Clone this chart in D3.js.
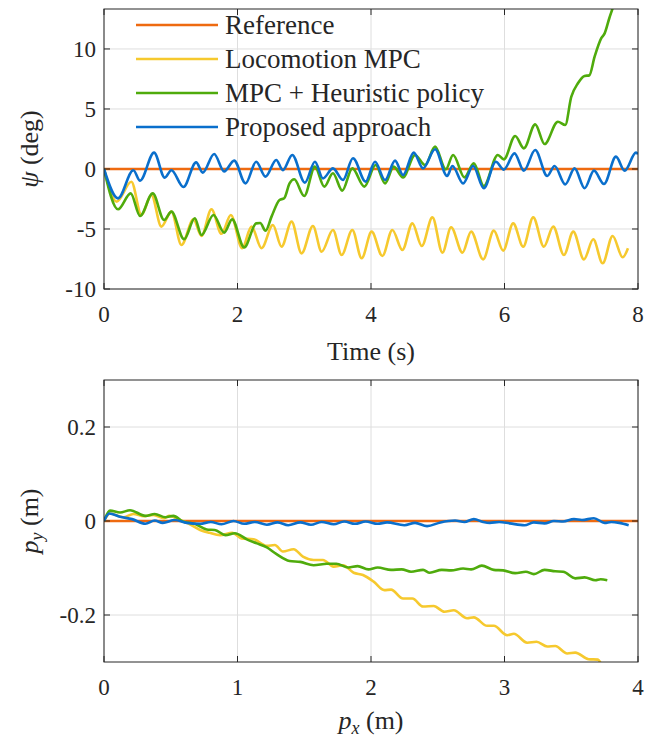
<!DOCTYPE html>
<html>
<head>
<meta charset="utf-8">
<script src="https://cdn.jsdelivr.net/npm/d3@7"></script>
<style>
  body { margin: 0; background: #fff; }
</style>
</head>
<body>
<div id="chart"></div>
<script>
// ---- data ----
const seriesNames = ["Reference", "Locomotion MPC", "MPC + Heuristic policy", "Proposed approach"];
const seriesColors = ["#EE6A10", "#F6C92E", "#4FAB0C", "#0A6FCC"];

// top: heading psi (deg) vs time (s)
const psiReference = [[0, 0], [8, 0]];
const psiLocomotion = [[0,0],[0.19,-2.72],[0.41,-1.06],[0.56,-3.83],[0.71,-2.17],[0.86,-4.8],[1.01,-3.55],
  [1.16,-6.33],[1.34,-4.2],[1.46,-5.58],[1.61,-3.36],[1.76,-5.4],[1.90,-3.83],[2.07,-6.6],[2.21,-4.8],
  [2.36,-6.6],[2.53,-4.67],[2.66,-6.47],[2.81,-4.39],[2.96,-7.03],[3.13,-4.75],[3.26,-6.89],[3.43,-5.08],
  [3.56,-7.17],[3.72,-5.08],[3.86,-7.44],[4.01,-5.22],[4.17,-7.25],[4.32,-5.08],[4.47,-6.75],[4.62,-4.53],
  [4.76,-6.42],[4.92,-4.03],[5.07,-6.97],[5.20,-4.86],[5.37,-6.97],[5.50,-5.22],[5.68,-7.53],[5.84,-5.14],
  [5.98,-6.8],[6.13,-4.53],[6.28,-6.47],[6.43,-4.03],[6.59,-6.47],[6.73,-4.8],[6.89,-7.17],[7.03,-5.22],
  [7.19,-7.53],[7.33,-5.86],[7.47,-7.86],[7.62,-5.58],[7.77,-7.36],[7.85,-6.6]];
const psiHeuristic = [[0,0],[0.21,-3.36],[0.40,-2.03],[0.54,-3.92],[0.73,-2.03],[0.90,-4.25],[1.01,-3.55],
  [1.20,-5.86],[1.36,-4.1],[1.46,-5.5],[1.64,-3.83],[1.80,-5.3],[1.92,-4.2],[2.10,-6.53],[2.28,-4.53],
  [2.34,-4.5],[2.42,-5.14],[2.51,-3.97],[2.63,-2.58],[2.70,-2.44],[2.78,-1.2],[2.85,-0.86],[3.00,-2.25],
  [3.16,0.2],[3.30,-1.47],[3.43,-0.36],[3.57,-1.8],[3.72,0.05],[3.90,-1.47],[4.07,0.33],[4.21,-1.2],
  [4.34,0.2],[4.48,-0.7],[4.66,1.17],[4.81,0.33],[4.96,1.86],[5.12,-0.03],[5.23,1.17],[5.40,-0.7],
  [5.54,0.47],[5.69,-1.42],[5.90,1.17],[5.99,0.8],[6.16,2.75],[6.29,1.72],[6.46,3.72],[6.60,2.08],
  [6.80,3.94],[6.91,3.67],[7.00,6.0],[7.10,7.14],[7.20,7.75],[7.27,7.8],[7.35,9.36],[7.45,10.9],
  [7.50,11.3],[7.57,12.56],[7.62,13.4],[7.75,16]];
const psiProposed = [[0,0],[0.21,-2.45],[0.44,-0.1],[0.54,-0.97],[0.75,1.36],[0.91,-0.72],[1.01,-0.1],
  [1.19,-1.5],[1.38,0.55],[1.48,-0.3],[1.65,1.25],[1.80,-0.2],[1.95,0.7],[2.12,-1.2],[2.28,0.6],
  [2.42,-0.64],[2.58,0.75],[2.68,-0.1],[2.82,1.17],[3.01,-1.14],[3.16,0.6],[3.28,-0.78],[3.43,0.05],
  [3.58,-0.92],[3.73,0.89],[3.92,-1.05],[4.06,0.6],[4.21,-0.92],[4.36,0.7],[4.48,-0.5],[4.64,1.36],
  [4.78,0.05],[4.96,1.64],[5.14,-0.58],[5.22,0.25],[5.38,-1.2],[5.53,0.25],[5.69,-1.6],[5.87,0.6],
  [5.99,-0.05],[6.15,1.3],[6.29,-0.14],[6.46,1.58],[6.64,-0.58],[6.75,0.25],[6.91,-1.28],[7.05,0.05],
  [7.20,-1.6],[7.34,-0.14],[7.49,-1.25],[7.67,1.03],[7.80,-0.14],[7.97,1.36],[8.0,1.25]];

// bottom: lateral position p_y (m) vs p_x (m)
const pyReference = [[0, 0], [4, 0]];
const pyLocomotion = [[0,0],[0.045,0.016],[0.145,0.008],[0.22,0.015],[0.30,0.01],[0.37,0.013],[0.45,0.006],
  [0.49,0.011],[0.57,0.002],[0.63,-0.005],[0.72,-0.019],[0.79,-0.025],[0.87,-0.03],[0.96,-0.025],
  [1.03,-0.037],[1.12,-0.039],[1.22,-0.053],[1.28,-0.051],[1.34,-0.065],[1.42,-0.06],[1.49,-0.076],
  [1.57,-0.083],[1.64,-0.083],[1.72,-0.097],[1.79,-0.094],[1.87,-0.11],[1.94,-0.115],[2.02,-0.129],
  [2.10,-0.147],[2.15,-0.146],[2.24,-0.165],[2.31,-0.165],[2.39,-0.182],[2.47,-0.181],[2.55,-0.193],
  [2.62,-0.19],[2.72,-0.207],[2.77,-0.205],[2.87,-0.223],[2.92,-0.223],[3.02,-0.243],[3.07,-0.24],
  [3.17,-0.259],[3.24,-0.257],[3.32,-0.267],[3.38,-0.266],[3.47,-0.282],[3.53,-0.28],[3.63,-0.294],
  [3.70,-0.295],[3.72,-0.302],[3.75,-0.31]];
const pyHeuristic = [[0,0],[0.045,0.022],[0.12,0.018],[0.195,0.023],[0.31,0.011],[0.38,0.015],[0.46,0.008],
  [0.52,0.011],[0.59,-0.001],[0.68,-0.006],[0.77,-0.018],[0.83,-0.019],[0.91,-0.03],[0.98,-0.026],
  [1.07,-0.039],[1.14,-0.047],[1.22,-0.056],[1.29,-0.07],[1.39,-0.085],[1.47,-0.087],[1.57,-0.094],
  [1.67,-0.091],[1.74,-0.091],[1.83,-0.099],[1.90,-0.096],[1.98,-0.103],[2.05,-0.099],[2.15,-0.104],
  [2.23,-0.103],[2.30,-0.108],[2.39,-0.104],[2.44,-0.11],[2.53,-0.104],[2.60,-0.105],[2.69,-0.101],
  [2.75,-0.103],[2.83,-0.095],[2.92,-0.104],[2.99,-0.105],[3.08,-0.111],[3.16,-0.108],[3.22,-0.113],
  [3.30,-0.104],[3.38,-0.107],[3.44,-0.108],[3.53,-0.122],[3.60,-0.12],[3.68,-0.126],[3.72,-0.124],
  [3.77,-0.126]];
const pyProposed = [[0,0],[0.04,0.016],[0.12,0.009],[0.21,0.004],[0.31,-0.006],[0.38,0.001],[0.44,-0.004],
  [0.53,0.002],[0.62,-0.004],[0.72,-0.006],[0.80,-0.002],[0.88,-0.007],[0.97,0.0],[1.05,-0.006],
  [1.13,-0.002],[1.22,-0.008],[1.30,-0.003],[1.38,-0.009],[1.47,-0.003],[1.55,-0.008],[1.63,-0.002],
  [1.72,-0.007],[1.80,-0.001],[1.88,-0.006],[1.96,-0.001],[2.05,-0.006],[2.12,-0.003],[2.25,-0.009],
  [2.33,-0.004],[2.42,-0.011],[2.52,-0.003],[2.63,0.001],[2.70,-0.002],[2.77,0.004],[2.84,-0.002],
  [2.89,-0.004],[2.96,-0.002],[3.04,-0.005],[3.15,-0.009],[3.22,-0.003],[3.30,-0.005],[3.37,0.0],
  [3.44,-0.001],[3.52,0.004],[3.58,0.002],[3.67,0.006],[3.75,-0.004],[3.80,-0.002],[3.86,-0.004],
  [3.93,-0.009]];

const topXTicks = [0, 2, 4, 6, 8];
const topYTicks = [-10, -5, 0, 5, 10];
const botXTicks = [0, 1, 2, 3, 4];
const botYTicks = [-0.2, 0, 0.2];

// ---- layout ----
const W = 648, H = 741;
const serifFont = "'Liberation Serif', 'DejaVu Serif', Tinos, 'Times New Roman', Times, serif";
const svg = d3.select("#chart").append("svg")
    .attr("width", W).attr("height", H)
    .attr("font-family", serifFont);

const left = 104, right = 638;

// helper so every label carries the serif font explicitly
function addText(parent) {
    return parent.append("text")
        .attr("font-family", serifFont)
        .attr("fill", "#262626");
}

// draws one axes box with grid, ticks, lines; returns scales
function drawAxes(cfg) {
    const x = d3.scaleLinear().domain(cfg.xDomain).range([left, right]);
    const y = d3.scaleLinear().domain(cfg.yDomain).range([cfg.bottom, cfg.top]);
    const g = svg.append("g");

    // grid
    g.selectAll(".gx").data(cfg.xTicks).enter().append("line")
        .attr("x1", d => x(d)).attr("x2", d => x(d))
        .attr("y1", cfg.top).attr("y2", cfg.bottom)
        .attr("stroke", "#dedede").attr("stroke-width", 1);
    g.selectAll(".gy").data(cfg.yTicks).enter().append("line")
        .attr("x1", left).attr("x2", right)
        .attr("y1", d => y(d)).attr("y2", d => y(d))
        .attr("stroke", "#dedede").attr("stroke-width", 1);

    // curves, clipped to the box
    const clipId = "clip" + cfg.id;
    svg.append("clipPath").attr("id", clipId).append("rect")
        .attr("x", left).attr("y", cfg.top)
        .attr("width", right - left).attr("height", cfg.bottom - cfg.top);
    const line = d3.line()
        .x(d => x(d[0])).y(d => y(d[1]))
        .curve(d3.curveMonotoneX);
    g.append("g").attr("clip-path", `url(#${clipId})`)
        .selectAll("path").data(cfg.series).enter().append("path")
        .attr("d", d => line(d))
        .attr("fill", "none")
        .attr("stroke", (d, i) => seriesColors[i])
        .attr("stroke-width", 2.6)
        .attr("stroke-linejoin", "round");

    // box
    g.append("rect").attr("x", left).attr("y", cfg.top)
        .attr("width", right - left).attr("height", cfg.bottom - cfg.top)
        .attr("fill", "none").attr("stroke", "#262626").attr("stroke-width", 1);

    // inward ticks on all four sides
    const tl = 6;
    cfg.xTicks.forEach(t => {
        g.append("line").attr("x1", x(t)).attr("x2", x(t))
            .attr("y1", cfg.bottom).attr("y2", cfg.bottom - tl).attr("stroke", "#262626");
        g.append("line").attr("x1", x(t)).attr("x2", x(t))
            .attr("y1", cfg.top).attr("y2", cfg.top + tl).attr("stroke", "#262626");
    });
    cfg.yTicks.forEach(t => {
        g.append("line").attr("x1", left).attr("x2", left + tl)
            .attr("y1", y(t)).attr("y2", y(t)).attr("stroke", "#262626");
        g.append("line").attr("x1", right).attr("x2", right - tl)
            .attr("y1", y(t)).attr("y2", y(t)).attr("stroke", "#262626");
    });

    // tick labels
    cfg.xTicks.forEach(t => {
        addText(g).attr("x", x(t)).attr("y", cfg.bottom + 33)
            .attr("text-anchor", "middle").attr("font-size", 23)
            .text(String(t));
    });
    cfg.yTicks.forEach(t => {
        addText(g).attr("x", left - 8).attr("y", y(t) + 8)
            .attr("text-anchor", "end").attr("font-size", 23)
            .text(String(t));
    });
    return {x, y, g};
}

const topAxes = drawAxes({
    id: "top", top: 9, bottom: 289,
    xDomain: [0, 8], yDomain: [-10, 13.33],
    xTicks: topXTicks, yTicks: topYTicks,
    series: [psiReference, psiLocomotion, psiHeuristic, psiProposed]
});
const botAxes = drawAxes({
    id: "bot", top: 380, bottom: 662,
    xDomain: [0, 4], yDomain: [-0.3, 0.3],
    xTicks: botXTicks, yTicks: botYTicks,
    series: [pyReference, pyLocomotion, pyHeuristic, pyProposed]
});

// axis labels
const mid = (left + right) / 2;
addText(svg).attr("x", mid).attr("y", 360)
    .attr("text-anchor", "middle").attr("font-size", 26).text("Time (s)");

const pxLab = addText(svg).attr("x", mid).attr("y", 729)
    .attr("text-anchor", "middle").attr("font-size", 26);
pxLab.append("tspan").attr("font-style", "italic").text("p");
pxLab.append("tspan").attr("font-style", "italic").attr("font-size", 18)
    .attr("dy", 5).text("x");
pxLab.append("tspan").attr("dy", -5).text(" (m)");

const psiLab = addText(svg)
    .attr("transform", "translate(38,149) rotate(-90)")
    .attr("text-anchor", "middle").attr("font-size", 26);
psiLab.append("tspan").attr("font-style", "italic").text("ψ");
psiLab.append("tspan").text(" (deg)");

const pyLab = addText(svg)
    .attr("transform", "translate(38,521) rotate(-90)")
    .attr("text-anchor", "middle").attr("font-size", 26);
pyLab.append("tspan").attr("font-style", "italic").text("p");
pyLab.append("tspan").attr("font-style", "italic").attr("font-size", 18)
    .attr("dy", 5).text("y");
pyLab.append("tspan").attr("dy", -5).text(" (m)");

// legend (inside top axes, no box)
const legend = svg.append("g");
seriesNames.forEach((name, i) => {
    const yy = 25 + i * 34;
    legend.append("line").attr("x1", 136).attr("x2", 218)
        .attr("y1", yy).attr("y2", yy)
        .attr("stroke", seriesColors[i]).attr("stroke-width", 2.6);
    addText(legend).attr("x", 225).attr("y", yy + 9)
        .attr("font-size", 27).text(name);
});
</script>
</body>
</html>
